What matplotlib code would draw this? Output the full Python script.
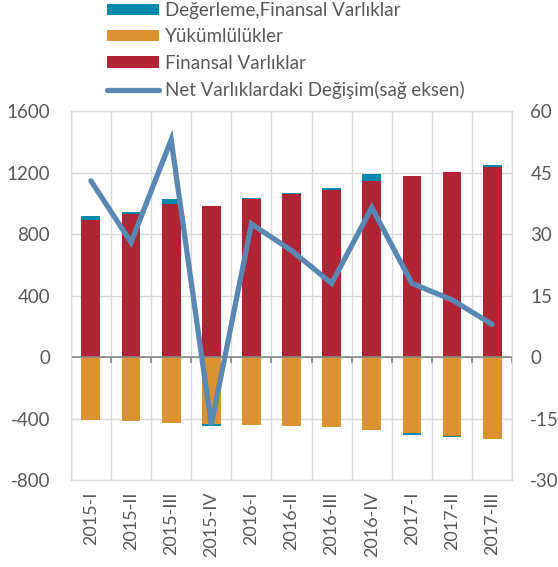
import matplotlib.pyplot as plt
import numpy as np

# DATA
quarters = ['2015-I', '2015-II', '2015-III', '2015-IV', '2016-I', '2016-II',
            '2016-III', '2016-IV', '2017-I', '2017-II', '2017-III']
finansalVarliklar = [895, 934, 993, 984, 1026, 1062, 1084, 1143, 1175, 1205, 1236]
yukumlulukler = [-406, -417, -426, -437, -441, -450, -456, -476, -493, -510, -532]
degerleme = [24, 13, 33, -10, 6, 3, 13, 45, -10, -10, 17]
netDegisim = [43, 28, 53, -16.5, 32.5, 26, 18, 36.5, 18, 14, 8]

# STYLE
red = '#B02535'
orange = '#DA9330'
teal = '#0089AB'
lineBlue = '#5B87B3'
textGray = '#595959'
gridGray = '#D9D9D9'
plt.rcParams['font.family'] = ['Lato', 'DejaVu Sans']
plt.rcParams['axes.unicode_minus'] = False

fig = plt.figure(figsize=(5.58, 5.67), dpi=100)
ax = fig.add_axes([0.127, 0.153, 0.791, 0.651])
ax2 = ax.twinx()

x = np.arange(len(quarters))
width = 0.47
ax.bar(x, finansalVarliklar, width, color=red, label='Finansal Varlıklar', zorder=2)
ax.bar(x, yukumlulukler, width, color=orange, label='Yükümlülükler', zorder=2)
degBottom = [f if d >= 0 else y for d, f, y in zip(degerleme, finansalVarliklar, yukumlulukler)]
ax.bar(x, degerleme, width, bottom=degBottom, color=teal, label='Değerleme,Finansal Varlıklar', zorder=2)

ax2.plot(x, netDegisim, color=lineBlue, lw=3.8, solid_capstyle='round', solid_joinstyle='miter',
         label='Net Varlıklardaki Değişim(sağ eksen)', zorder=3)

# AXES
ax.set_xlim(-0.5, len(quarters) - 0.5)
ax.set_ylim(-800, 1600)
ax.set_yticks(range(-800, 1601, 400))
ax2.set_ylim(-30, 60)
ax2.set_yticks(range(-30, 61, 15))
ax.set_xticks(x)
ax.set_xticklabels(quarters, rotation=90)
ax.set_xticks(np.arange(-0.5, len(quarters)), minor=True)
ax.grid(True, which='minor', axis='x', color=gridGray, lw=1, zorder=0)
ax.grid(True, which='major', axis='y', color=gridGray, lw=1, zorder=0)
ax.axhline(0, color='#868686', lw=1.2, zorder=2.5)
ax.vlines(np.arange(-0.5, len(quarters)), -35, 0, color='#868686', lw=1.2, zorder=2.5)
ax.tick_params(axis='both', which='both', length=0, colors=textGray)
ax.tick_params(axis='y', pad=15, labelsize=13.5)
ax.tick_params(axis='x', pad=8, labelsize=13)
ax2.tick_params(axis='y', length=0, colors=textGray, labelsize=13.5, pad=13)
for a in (ax, ax2):
    for s in a.spines.values():
        s.set_color(gridGray)
ax.set_axisbelow(True)
ax.set_zorder(ax2.get_zorder() - 1)
ax.patch.set_visible(False)
ax2.patch.set_visible(False)

# LEGEND
h1, l1 = ax.get_legend_handles_labels()
h2, l2 = ax2.get_legend_handles_labels()
handles = [h1[2], h1[1], h1[0], h2[0]]
labels = [l1[2], l1[1], l1[0], l2[0]]
fig.legend(handles, labels, loc='upper left', bbox_to_anchor=(0.178, 1.01), frameon=False,
           fontsize=13.5, labelcolor=textGray, handlelength=2.8, handleheight=0.55,
           handletextpad=0.3, labelspacing=0.5, borderaxespad=0)

fig.savefig('out.png', dpi=100)
